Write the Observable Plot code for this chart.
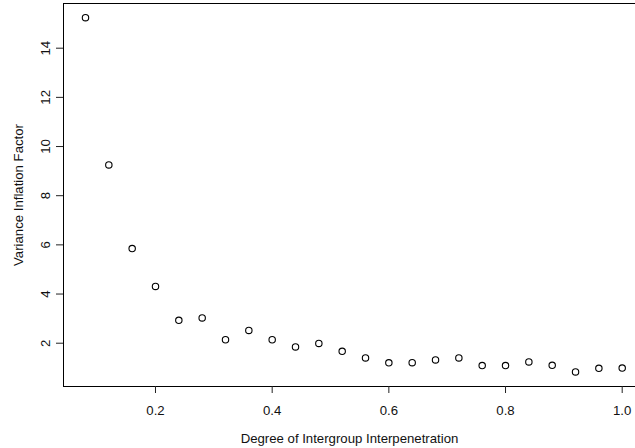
<!DOCTYPE html>
<html>
<head>
<meta charset="utf-8">
<script src="https://cdn.jsdelivr.net/npm/d3@7"></script>
<script src="https://cdn.jsdelivr.net/npm/@observablehq/plot@0.6"></script>
<style>
  html, body { margin: 0; padding: 0; background: #fff; overflow: hidden; }
</style>
</head>
<body>
<div id="chart"></div>
<script>
const interpenetration = [0.08, 0.12, 0.16, 0.20, 0.24, 0.28, 0.32, 0.36, 0.40, 0.44, 0.48, 0.52,
                          0.56, 0.60, 0.64, 0.68, 0.72, 0.76, 0.80, 0.84, 0.88, 0.92, 0.96, 1.00];
const vif = [15.24, 9.25, 5.85, 4.31, 2.93, 3.03, 2.14, 2.52, 2.14, 1.85, 1.99, 1.67,
             1.40, 1.20, 1.21, 1.32, 1.40, 1.09, 1.09, 1.24, 1.10, 0.83, 0.98, 0.99];
const xTicks = [0.2, 0.4, 0.6, 0.8, 1.0];
const yTicks = [2, 4, 6, 8, 10, 12, 14];
const xTitle = "Degree of Intergroup Interpenetration";
const yTitle = "Variance Inflation Factor";

const data = interpenetration.map((x, i) => ({x, y: vif[i]}));
const xDomain = [0.0423, 1.0228];
const yDomain = [0.239, 15.818];

const chart = Plot.plot({
  width: 635,
  height: 448,
  marginLeft: 63,
  marginTop: 3,
  marginRight: 0,
  marginBottom: 62,
  style: {fontFamily: "'Liberation Sans', Arial, Helvetica, sans-serif", fontSize: "13.2px", color: "black", background: "white"},
  x: {domain: xDomain},
  y: {domain: yDomain},
  marks: [
    Plot.ruleY(yDomain, {stroke: "black", strokeWidth: 1}),
    Plot.ruleX([xDomain[0]], {stroke: "black", strokeWidth: 1}),
    Plot.axisX({ticks: xTicks, tickSize: 7, tickFormat: () => "", label: null, stroke: "#222"}),
    Plot.axisY({ticks: yTicks, tickSize: 7, tickFormat: () => "", label: null, stroke: "#222"}),
    Plot.text(xTicks, {x: d => d, text: d => d.toFixed(1), frameAnchor: "bottom", dy: 24, lineAnchor: "middle", textAnchor: "middle", fill: "#111"}),
    Plot.text(yTicks, {y: d => d, text: d => String(d), frameAnchor: "left", dx: -18, rotate: -90, lineAnchor: "middle", textAnchor: "middle", fill: "#111"}),
    Plot.text([xTitle], {text: d => d, frameAnchor: "bottom", dy: 52, lineAnchor: "middle", textAnchor: "middle", fill: "#111"}),
    Plot.text([yTitle], {text: d => d, frameAnchor: "left", dx: -45, rotate: -90, lineAnchor: "middle", textAnchor: "middle", fill: "#111"}),
    Plot.dot(data, {x: "x", y: "y", r: 3.2, stroke: "black", strokeWidth: 1.1, fill: "none"})
  ]
});
document.getElementById("chart").appendChild(chart);
</script>
</body>
</html>
